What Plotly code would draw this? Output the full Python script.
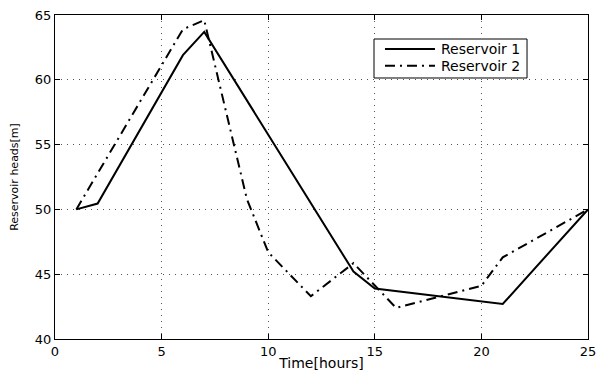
import plotly.graph_objects as go

# Data
time_r1 = [1, 2, 6, 7, 14, 15, 21, 25]
head_r1 = [50.0, 50.45, 61.9, 63.7, 45.2, 43.9, 42.7, 50.0]

time_r2 = [1, 6, 7, 9, 10, 12, 14, 16, 20, 21, 25]
head_r2 = [50.0, 63.9, 64.6, 50.8, 46.7, 43.3, 45.85, 42.4, 44.1, 46.3, 50.0]

series_names = ["Reservoir 1", "Reservoir 2"]
x_ticks = [0, 5, 10, 15, 20, 25]
y_ticks = [40, 45, 50, 55, 60, 65]

FONT = "DejaVu Sans, Arial, sans-serif"
DASHES = ["solid", "10px,5px,2px,5px"]

fig = go.Figure()
fig.add_trace(go.Scatter(x=time_r1, y=head_r1, mode="lines", name=series_names[0],
                         line=dict(color="black", width=2, dash=DASHES[0])))
fig.add_trace(go.Scatter(x=time_r2, y=head_r2, mode="lines", name=series_names[1],
                         line=dict(color="black", width=2, dash=DASHES[1])))

axis_common = dict(
    showline=True, linecolor="black", linewidth=1, mirror="ticks",
    ticks="inside", ticklen=5, tickcolor="black", tickwidth=1,
    showgrid=True, gridcolor="#555", gridwidth=1, griddash="1px,5px",
    zeroline=False, tickfont=dict(family=FONT, size=13, color="black"),
    automargin=False, ticklabeloverflow="allow",
)

fig.update_xaxes(range=[0, 25], tickvals=x_ticks, ticktext=[str(v) for v in x_ticks],
                 ticklabelstandoff=0,
                 title=dict(text="Time[hours]", font=dict(family=FONT, size=14, color="black"), standoff=4),
                 **axis_common)
fig.update_yaxes(range=[40, 65], tickvals=y_ticks, ticktext=[str(v) for v in y_ticks],
                 ticklabelstandoff=0,
                 title=dict(text="Reservoir heads[m]", font=dict(family=FONT, size=11, color="black"), standoff=14),
                 **axis_common)

# Manual MATLAB-style legend box (paper coordinates)
lg_x0, lg_x1, lg_y0, lg_y1 = 0.5985, 0.8856, 0.8056, 0.9259
sample_x0, sample_x1, text_x = 0.6191, 0.7129, 0.7205
row_y = [0.8951, 0.8435]
shapes = [dict(type="rect", xref="paper", yref="paper", x0=lg_x0, x1=lg_x1, y0=lg_y0, y1=lg_y1,
               line=dict(color="black", width=1), fillcolor="white", layer="above")]
annotations = []
for name, dash, yy in zip(series_names, DASHES, row_y):
    shapes.append(dict(type="line", xref="paper", yref="paper", x0=sample_x0, x1=sample_x1, y0=yy, y1=yy,
                       line=dict(color="black", width=2, dash=dash), layer="above"))
    annotations.append(dict(xref="paper", yref="paper", x=text_x, y=yy, text=name, showarrow=False,
                            xanchor="left", yanchor="middle",
                            font=dict(family=FONT, size=14, color="black")))

fig.update_layout(
    width=596, height=371,
    margin=dict(l=55, r=8, t=15, b=32),
    paper_bgcolor="white", plot_bgcolor="white",
    font=dict(family=FONT, size=13, color="black"),
    showlegend=False,
    shapes=shapes, annotations=annotations,
)

fig.write_html("out.html", config={"displayModeBar": False},
               post_script="document.body.style.margin='0';document.body.style.overflow='hidden';")
